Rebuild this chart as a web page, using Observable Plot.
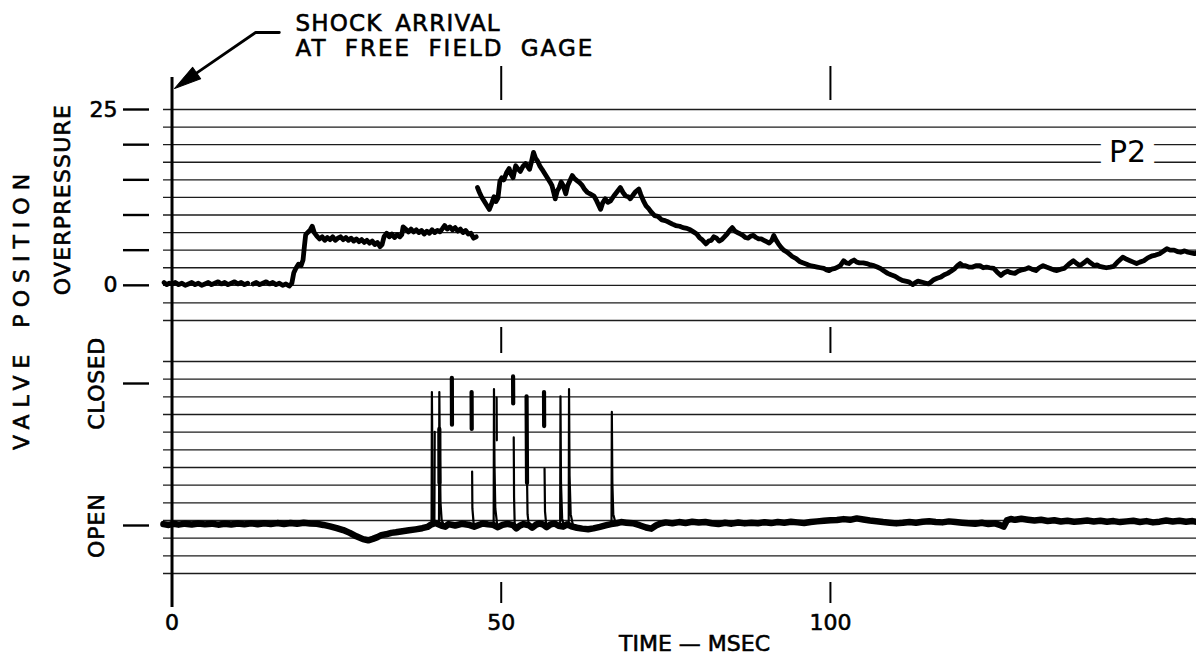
<!DOCTYPE html>
<html>
<head>
<meta charset="utf-8">
<script src="https://cdn.jsdelivr.net/npm/d3@7"></script>
<script src="https://cdn.jsdelivr.net/npm/@observablehq/plot@0.6"></script>
<style>
  html, body { margin: 0; padding: 0; background: #fff; }
  #chart { position: relative; width: 1196px; height: 670px; overflow: hidden; background: #fff; }
  #chart svg { position: absolute; left: 0; display: block; overflow: visible; background: transparent; }
</style>
</head>
<body>
<div id="chart"></div>
<script>
// ---------- data read from the record ----------
// time axis (msec)
const timeTicks = [0, 50, 100];
const timeMarks = [50, 100];

// overpressure axis (psi)
const pressureTicks = [0, 5, 10, 15, 20, 25];
const pressureLabels = [0, 25];

// valve position axis (% closed)
const valveTicks = [0, 100];
const valveTickLabels = ["OPEN", "CLOSED"];

// overpressure trace P2: [time msec, psi]  (null = gap in the record)
const pressureTrace = [
  [-1.2,0.4],[-0.8,0.1],[-0.4,0.3],[0,0.2],[0.5,0.4],[1,0.1],[1.5,0.3],[2,0],[2.5,0.2],[3,0.4],
  [3.5,0.1],[4,0.3],[4.5,0],[5,0.2],[5.5,0.4],[6,0.1],[6.5,0.3],[7,0.5],[7.5,0.2],[8,0.4],
  [8.5,0.1],[9,0.3],[9.5,0.5],[10,0.2],[10.5,0.4],[11,0.1],[11.5,0.3],[11.9,null],[12.3,0.2],[12.8,0.4],
  [13.3,0.1],[13.8,0.3],[14.3,0.5],[14.8,0.2],[15.3,0.4],[15.8,0.1],[16.3,0.3],[16.8,0],[17.3,0.2],[17.8,-0.1],
  [18.2,0.3],[18.5,1.8],[18.8,2.4],[19.2,3.0],[19.6,2.8],[19.9,3.6],[20.1,5.5],[20.3,7.2],[20.7,7.6],[21.0,7.9],
  [21.3,8.4],[21.6,7.5],[22,7.0],[22.4,6.6],[22.8,6.9],[23.2,6.4],[23.6,6.8],[24,6.5],[24.4,6.9],[24.8,6.4],
  [25.2,6.7],[25.6,6.9],[26,6.5],[26.4,6.8],[26.8,6.4],[27.2,6.7],[27.6,6.3],[28,6.6],[28.4,6.2],[28.8,6.5],
  [29.2,6.1],[29.6,6.4],[30,6.0],[30.4,6.3],[30.8,5.8],[31.2,6.1],[31.6,5.5],[31.9,5.8],[32.2,6.9],[32.6,7.4],
  [33,6.9],[33.4,7.3],[33.8,6.8],[34.2,7.2],[34.6,6.9],[34.9,7.2],[35.1,8.3],[35.5,8.0],[35.9,7.6],[36.3,8.0],
  [36.7,7.6],[37.1,7.9],[37.5,7.5],[37.9,7.8],[38.3,7.3],[38.7,7.7],[39.1,7.4],[39.5,7.9],[39.9,7.5],[40.3,7.8],
  [40.7,7.6],[41.1,8.1],[41.4,8.5],[41.8,8.0],[42.2,8.3],[42.6,7.9],[43,8.2],[43.4,7.7],[43.8,8.0],[44.2,7.5],
  [44.6,7.8],[45,7.3],[45.4,7.4],[45.8,6.7],[46.2,6.9],[46.3,null],[46.4,13.9],[46.7,13.2],[47.0,12.6],[47.4,12.0],
  [47.8,11.4],[48.2,10.8],[48.5,11.5],[48.9,12.6],[49.2,11.9],[49.5,12.4],[49.8,14.8],[50.1,15.3],[50.4,15.0],[50.8,16.0],
  [51.2,16.6],[51.5,15.8],[51.8,15.3],[52.2,17.0],[52.5,16.6],[52.9,16.2],[53.3,16.9],[53.7,17.3],[54.0,16.9],[54.3,16.5],
  [54.6,17.6],[54.9,18.9],[55.2,18.1],[55.5,17.7],[55.9,16.9],[56.2,16.5],[56.6,15.9],[57.0,15.3],[57.4,14.7],[57.7,14.2],
  [58.0,13.1],[58.2,12.3],[58.5,13.4],[58.8,13.9],[59.1,14.7],[59.4,14.2],[59.8,13.0],[60.1,14.2],[60.5,15.0],[60.8,15.6],
  [61.1,15.2],[61.5,14.9],[61.9,14.6],[62.3,14.2],[62.7,13.6],[63.1,13.2],[63.5,13.0],[64.1,12.7],[64.5,12.0],[64.8,11.4],
  [65.1,10.8],[65.4,11.7],[65.8,12.3],[66.2,11.8],[66.6,12.0],[67.1,12.7],[67.6,13.3],[68.1,13.9],[68.5,13.2],[68.9,12.7],
  [69.3,12.6],[69.6,12.3],[70.0,12.8],[70.4,13.3],[70.9,13.7],[71.2,12.9],[71.6,12.0],[72.0,11.3],[72.4,10.9],[72.8,10.4],
  [73.3,9.9],[73.8,9.8],[74.4,9.3],[74.9,9.2],[75.4,9.0],[76.0,8.7],[76.5,8.5],[77.1,8.4],[77.6,8.2],[78.2,8.1],
  [78.7,7.9],[79.2,7.6],[79.7,7.3],[80.1,6.8],[80.5,6.5],[81.1,5.9],[81.5,6.3],[81.9,6.4],[82.3,6.9],[82.7,6.7],
  [83.1,6.3],[83.5,6.5],[83.9,6.9],[84.3,7.3],[84.7,7.8],[85.1,8.2],[85.5,7.7],[85.9,7.5],[86.3,7.3],[86.7,7.1],
  [87.1,6.8],[87.5,6.7],[87.9,7.0],[88.3,7.1],[88.7,6.8],[89.1,6.6],[89.5,6.6],[89.9,6.4],[90.3,6.2],[90.7,6.0],
  [91.1,6.4],[91.4,7.1],[91.7,6.5],[92.1,5.9],[92.5,5.4],[92.9,5.0],[93.3,4.8],[93.7,4.5],[94.2,4.1],[94.8,3.8],
  [95.3,3.4],[95.8,3.2],[96.4,3.0],[96.9,2.8],[97.5,2.7],[98.0,2.6],[98.5,2.5],[99.0,2.4],[99.4,2.2],[99.8,2.1],
  [100.2,2.3],[100.7,2.4],[101.1,2.6],[101.5,2.8],[102.0,3.5],[102.4,3.2],[102.8,3.1],[103.2,3.4],[103.6,3.6],[104.0,3.3],
  [104.4,3.2],[105.0,3.2],[105.5,3.1],[106.1,2.9],[106.6,2.8],[107.1,2.6],[107.6,2.4],[108.2,2.0],[108.7,1.7],[109.2,1.5],
  [109.8,1.3],[110.3,1.0],[110.9,0.7],[111.4,0.6],[111.9,0.5],[112.5,0.1],[112.9,0.4],[113.3,0.6],[113.7,0.5],[114.1,0.4],
  [114.5,0.3],[114.9,0.2],[115.3,0.5],[115.7,0.8],[116.2,1.0],[116.8,1.2],[117.3,1.5],[117.8,1.7],[118.3,2.0],[118.9,2.4],
  [119.3,2.8],[119.7,3.1],[120.1,2.8],[120.5,2.8],[121.0,2.6],[121.6,2.6],[122.1,2.8],[122.7,2.8],[123.2,2.5],[123.7,2.6],
  [124.2,2.5],[124.8,2.4],[125.3,1.9],[125.9,1.4],[126.4,1.8],[126.9,2.0],[127.4,1.8],[128.0,1.7],[128.5,2.0],[129.1,2.2],
  [129.6,2.3],[130.1,2.5],[130.6,2.3],[131.2,2.1],[131.7,2.5],[132.3,2.8],[132.8,2.6],[133.4,2.4],[133.9,2.2],[134.4,2.1],
  [135.0,2.3],[135.5,2.4],[136.2,3.0],[136.9,3.5],[137.4,3.1],[137.9,2.8],[138.5,3.2],[139.0,3.6],[139.5,3.2],[140.1,2.8],
  [140.5,2.9],[140.9,2.7],[141.4,2.6],[141.9,2.5],[142.5,2.6],[143.0,2.7],[143.7,3.4],[144.4,4.0],[145.0,3.7],[145.5,3.5],
  [146.0,3.3],[146.5,3.1],[147.0,3.3],[147.6,3.5],[148.2,3.9],[148.9,4.2],[149.4,4.3],[150.0,4.5],[150.5,4.8],[151.1,5.2],
  [151.6,5.0],[152.2,5.0],[152.7,4.8],[153.2,4.7],[153.8,4.9],[154.3,4.7],[154.8,4.6],[155.3,4.5],[155.6,4.6]
];

// valve position trace (base record): [time msec, % closed]
const valveTrace = [
  [-1.3,1.0],[-0.5,0.4],[0.3,1.2],[1,0.6],[2,1.3],[3,0.7],[4,1.4],[5,0.8],[6,1.3],[7,0.6],
  [8,1.2],[9,0.7],[10,1.4],[11,0.8],[12,1.5],[13,0.9],[14,1.6],[15,1.0],[16,1.7],[17,1.1],
  [18,1.8],[19,1.3],[20,1.9],[21,1.4],[22,1.2],[23,0.4],[24,-0.6],[25,-1.8],[26,-3.2],[27,-5.2],
  [28,-7.6],[29,-9.6],[29.8,-10.4],[30.5,-9.4],[31.2,-8.2],[31.8,-6.8],[32.5,-6.2],[33.3,-5.2],[34,-4.8],[35,-4.0],
  [36,-3.4],[37,-2.7],[38,-1.9],[38.8,-1.0],[39.3,0.5],[40,1.8],[40.9,0.0],[41.5,-0.8],[42,1.0],[43,0.0],
  [44,1.2],[45,0.6],[45.9,-0.8],[46.6,0.4],[47.2,1.4],[48,0.8],[48.7,0.6],[49.5,-1.2],[50.2,0.4],[51,1.2],
  [51.8,0.2],[52.3,-2.0],[52.8,-0.2],[53.4,1.0],[54.2,0.2],[54.7,-1.6],[55.3,0.6],[55.8,1.5],[56.4,0.6],[56.9,-1.2],
  [57.5,0.8],[58.1,1.4],[58.7,-0.2],[59.4,-0.8],[60,0.8],[60.8,-0.8],[61.5,-1.6],[62.3,-2.2],[63.2,-2.6],[64,-2.0],
  [65,-1.0],[66,0.2],[66.7,1.0],[67.5,1.6],[68.2,2.4],[69,2.0],[70,1.6],[71,0.2],[72,-1.4],[72.8,-2.2],
  [73.5,0.0],[74.2,1.4],[75,2.2],[76,1.6],[77,2.4],[78,1.8],[79,2.6],[80,2.1],[81,2.5],[82,1.6],
  [83,1.0],[84,1.9],[85,1.3],[86,2.1],[87,1.5],[88,2.0],[89,1.6],[90,2.3],[91,1.7],[92,2.5],
  [93,2.0],[94,2.6],[95,2.2],[96,1.8],[97,2.5],[98,2.9],[99,3.3],[100,3.7],[101,3.9],[102,4.5],
  [103,4.0],[104,5.0],[105,4.2],[106,3.5],[107,3.0],[108,2.4],[109,2.0],[110,1.5],[111,1.9],[112,2.5],
  [113,2.0],[114,2.7],[115,3.0],[116,2.5],[117,2.2],[118,2.9],[119,2.4],[120,2.0],[121,1.6],[122,1.2],
  [123,1.9],[124,1.0],[125,1.5],[125.8,0.3],[126.3,-0.8],[126.8,3.6],[127.4,4.6],[128,4.0],[129,4.7],[130,4.1],
  [131,3.5],[132,4.0],[133,3.2],[134,3.7],[135,2.8],[136,3.3],[137,2.6],[138,3.0],[139,3.5],[140,2.8],
  [141,3.3],[142,2.6],[143,3.1],[144,2.4],[145,2.9],[146,3.3],[147,2.5],[148,3.1],[149,2.2],[150,2.7],
  [151,3.5],[152,2.8],[153,3.3],[154,2.7],[155,3.1],[155.6,2.6]
];

// fast valve closures: thin pen strokes of each spike [time msec, % closed]
const valveSpikes = [
  [[39.42,1],[39.47,94],[39.55,45],[39.62,12],[39.8,2]],
  [[39.85,2],[39.9,66]],
  [[40.55,2],[40.6,94],[40.68,50],[40.78,16],[40.95,4],[41.3,0]],
  [[45.58,38],[45.62,12],[45.8,2],[46.1,-0.5]],
  [[48.85,1],[48.9,96],[48.98,42],[49.1,12],[49.4,0]],
  [[49.3,90],[49.33,60]],
  [[51.9,62],[51.95,20],[52.05,0]],
  [[53.93,30],[54.0,8],[54.2,0]],
  [[56.58,40],[56.65,10],[56.85,0]],
  [[58.95,0],[59.0,91],[59.08,30],[59.25,5],[59.5,0]],
  [[60.25,0],[60.3,96],[60.38,35],[60.55,8],[60.9,0]],
  [[66.75,1],[66.8,80],[66.88,30],[67.02,8],[67.4,1]]
];
// heavier pen segments near spike tops
const valveSegments = [
  [[40.6,68],[40.62,30]],
  [[42.5,104],[42.52,71]],
  [[45.5,94],[45.52,68]],
  [[51.8,105],[51.82,86]],
  [[53.85,91],[53.92,30]],
  [[56.5,94],[56.52,70]]
];

// ---------- build tables ----------
const pressureData = pressureTrace.map(([t, p]) => ({t, p}));
const valveData = valveTrace.map(([t, v]) => ({t, v}));
const spikeData = valveSpikes.flatMap((seg, i) => seg.map(([t, v]) => ({t, v, id: i})));
const segData = valveSegments.flatMap((seg, i) => seg.map(([t, v]) => ({t, v, id: i})));

const W = 1196;
const xDomain = [-3.42, 155.6];
const pressureDomain = [-5, 25];
const valveDomain = [-33.8, 115.5];
const pressureGrid = d3.range(13).map(i => pressureDomain[0] + i * 2.5);
const valveGrid = d3.range(13).map(i => valveDomain[0] + i * (valveDomain[1] - valveDomain[0]) / 12);

const baseStyle = {
  fontFamily: "'DejaVu Sans', sans-serif",
  fontSize: "22px",
  color: "black",
  background: "transparent",
  overflow: "visible"
};
const gridColor = "#1c1c1c";

const headShape = {
  draw(context, l) {
    context.moveTo(-7, 0);
    context.lineTo(0, -l);
    context.lineTo(7, 0);
    context.closePath();
  }
};

// ---------- top: overpressure ----------
const topPlot = Plot.plot({
  width: W, height: 324,
  marginLeft: 149, marginRight: 0, marginTop: 109, marginBottom: 4,
  style: baseStyle,
  x: {domain: xDomain, axis: null},
  y: {domain: pressureDomain},
  marks: [
    Plot.ruleY(pressureGrid, {insetLeft: 14, stroke: gridColor, strokeWidth: 1.3}),
    Plot.axisY(pressureTicks, {
      tickSize: 26, tickPadding: 6, strokeWidth: 2.4, stroke: "black", fill: "black",
      fontSize: 22, label: null,
      tickFormat: d => pressureLabels.includes(d) ? String(d) : ""
    }),
    Plot.ruleX([0], {stroke: "black", strokeWidth: 3, insetTop: -32, insetBottom: -4}),
    Plot.ruleX(timeMarks, {stroke: "black", strokeWidth: 2, insetTop: -43, insetBottom: 220}),
    Plot.text(["P2"], {
      text: d => d, frameAnchor: "top-right", dx: -69, dy: 43, fontSize: 30,
      fill: "black", stroke: "white", strokeWidth: 22, paintOrder: "stroke",
      textAnchor: "middle", lineAnchor: "middle"
    }),
    Plot.line(pressureData, {
      x: "t", y: "p", stroke: "black", strokeWidth: 4.8,
      strokeLinejoin: "round", strokeLinecap: "round"
    }),
    Plot.text(["OVERPRESSURE"], {
      text: d => d, frameAnchor: "left", dx: -87, dy: -15.5, rotate: -90,
      fontSize: 22, fill: "black", textAnchor: "middle", lineAnchor: "middle"
    }),
    // annotation: arrow to the shock arrival
    Plot.line([{t: 16.3, p: 35.95}, {t: 12.7, p: 35.95}, {t: 3.6, p: 30.1}], {
      x: "t", y: "p", stroke: "black", strokeWidth: 2.8
    }),
    Plot.vector([{t: 0.38, p: 27.98}], {
      x: "t", y: "p", length: 27, rotate: 235, anchor: "end",
      shape: headShape, fill: "black", stroke: "black", strokeWidth: 1
    }),
    Plot.text(["SHOCK ARRIVAL"], {
      text: d => d, frameAnchor: "top-left", dx: 146, dy: -85.5,
      fontSize: 23, fill: "black", textAnchor: "start", lineAnchor: "middle"
    }),
    Plot.text(["AT FREE FIELD GAGE"], {
      text: d => d, frameAnchor: "top-left", dx: 146, dy: -60.5,
      fontSize: 23, fill: "black", textAnchor: "start", lineAnchor: "middle"
    })
  ]
});

// ---------- bottom: valve position ----------
const bottomPlot = Plot.plot({
  width: W, height: 346,
  marginLeft: 149, marginRight: 0, marginTop: 37, marginBottom: 97,
  style: baseStyle,
  x: {domain: xDomain, axis: null},
  y: {domain: valveDomain},
  marks: [
    Plot.ruleY(valveGrid, {insetLeft: 14, stroke: gridColor, strokeWidth: 1.3}),
    Plot.axisY(valveTicks, {
      tickSize: 26, tickPadding: 6, strokeWidth: 2.4, stroke: "black",
      label: null, tickFormat: () => ""
    }),
    Plot.text(valveTicks, {
      y: d => d, text: (d, i) => valveTickLabels[i], frameAnchor: "left", dx: -53,
      rotate: -90, fontSize: 22, fill: "black", textAnchor: "middle", lineAnchor: "middle"
    }),
    Plot.text(["VALVE POSITION"], {
      text: d => d, frameAnchor: "left", dx: -128, dy: -159, rotate: -90,
      fontSize: 22, fill: "black", textAnchor: "middle", lineAnchor: "middle"
    }),
    Plot.ruleX([0], {stroke: "black", strokeWidth: 3, insetTop: -37, insetBottom: -34}),
    Plot.ruleX(timeMarks, {stroke: "black", strokeWidth: 2, insetTop: -34, insetBottom: 220}),
    Plot.ruleX(timeMarks, {stroke: "black", strokeWidth: 2, insetTop: 221, insetBottom: -30}),
    Plot.text(timeTicks, {
      x: d => d, text: d => String(d), frameAnchor: "bottom", dy: 49,
      fontSize: 22, fill: "black", lineAnchor: "middle"
    }),
    Plot.text(["TIME — MSEC"], {
      text: d => d, frameAnchor: "bottom", dx: 21.5, dy: 70,
      fontSize: 22, fill: "black", lineAnchor: "middle"
    }),
    Plot.line(valveData, {
      x: "t", y: "v", stroke: "black", strokeWidth: 6.5,
      strokeLinejoin: "round", strokeLinecap: "round"
    }),
    Plot.line(spikeData, {x: "t", y: "v", z: "id", stroke: "black", strokeWidth: 2.2}),
    Plot.line(segData, {x: "t", y: "v", z: "id", stroke: "black", strokeWidth: 4.2, strokeLinecap: "round"})
  ]
});

const chart = document.getElementById("chart");
topPlot.style.top = "0px";
bottomPlot.style.top = "324px";
topPlot.style.overflow = "visible";
bottomPlot.style.overflow = "visible";
chart.appendChild(topPlot);
chart.appendChild(bottomPlot);

// lettering weight and spacing like the hand-lettered original
const spacing = {
  "VALVE POSITION": ["7px", "6px"],
  "OVERPRESSURE": ["1.2px", "0px"],
  "SHOCK ARRIVAL": ["1.2px", "4px"],
  "AT FREE FIELD GAGE": ["2px", "8px"],
  "CLOSED": ["0.6px", "0px"],
  "OPEN": ["1px", "0px"]
};
for (const svg of [topPlot, bottomPlot]) {
  svg.querySelectorAll("text").forEach(el => {
    const s = el.textContent;
    if (s === "P2") return;
    el.style.stroke = "black";
    el.style.strokeWidth = "0.6px";
    if (spacing[s]) {
      el.style.letterSpacing = spacing[s][0];
      el.style.wordSpacing = spacing[s][1];
    }
  });
}
</script>
</body>
</html>
